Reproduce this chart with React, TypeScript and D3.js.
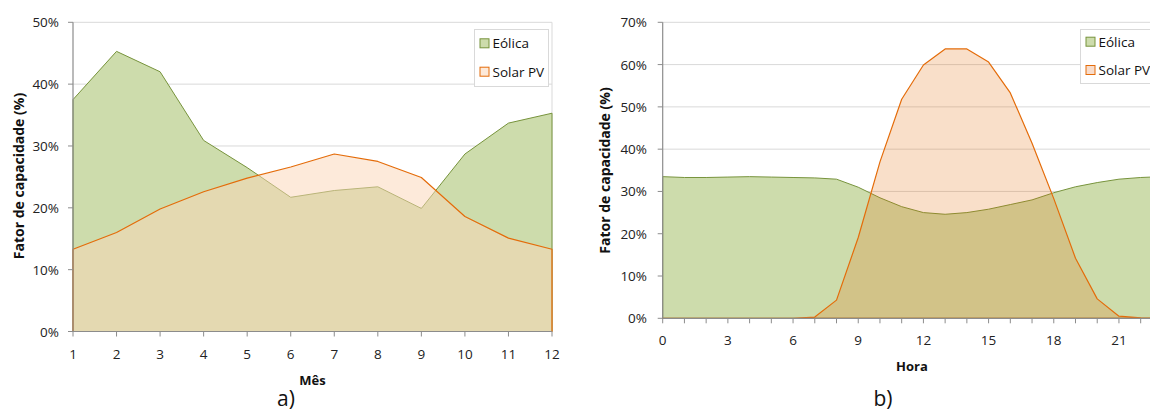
import React from "react";
import * as d3 from "d3";

const months = [1, 2, 3, 4, 5, 6, 7, 8, 9, 10, 11, 12];
const eolicaMes = [0.375, 0.453, 0.42, 0.309, 0.265, 0.217, 0.228, 0.234, 0.199, 0.287, 0.337, 0.353];
const solarMes = [0.133, 0.16, 0.198, 0.226, 0.248, 0.266, 0.287, 0.275, 0.249, 0.186, 0.151, 0.133];

const hours = d3.range(0, 24);
const eolicaHora = [0.335, 0.333, 0.333, 0.334, 0.335, 0.334, 0.333, 0.332, 0.329, 0.31, 0.285, 0.264, 0.25, 0.246, 0.25, 0.258, 0.269, 0.28, 0.297, 0.311, 0.321, 0.329, 0.333, 0.335];
const solarHora = [0, 0, 0, 0, 0, 0, 0, 0.003, 0.043, 0.191, 0.37, 0.518, 0.599, 0.637, 0.637, 0.606, 0.533, 0.414, 0.283, 0.142, 0.046, 0.005, 0.001, 0];

const leftYTicks = [0, 0.1, 0.2, 0.3, 0.4, 0.5];
const rightYTicks = [0, 0.1, 0.2, 0.3, 0.4, 0.5, 0.6, 0.7];
const rightXLabels = [0, 3, 6, 9, 12, 15, 18, 21];

const seriesNames = ["Eólica", "Solar PV"];
const FONT = "'Open Sans', sans-serif";
const GREEN_FILL = "#cddcac";
const GREEN_LINE = "#77933c";
const ORANGE = "#e46c0a";
const GRID = "#d9d9d9";
const AXIS = "#8c8c8c";

function Panel(props: {
  xs: number[];
  a: number[];
  b: number[];
  x: d3.ScaleLinear<number, number>;
  y: d3.ScaleLinear<number, number>;
  yTicks: number[];
  xTicks: number[];
  xLabels: number[];
  xLabelY: number;
  yLabelX: number;
  solarFill: string;
  solarOpacity: number;
  xTitle: string;
  xTitleX: number;
  xTitleY: number;
  yTitleX: number;
  yTitleY: number;
  legendX: number;
  legendW: number;
  legendY: number;
  legendH: number;
  legendRows: number[];
  legendSolarFill: string;
  clipId: string;
  clipW: number;
}) {
  const { x, y } = props;
  const [x0, x1] = x.range();
  const [yb, yt] = y.range();
  const area = d3
    .area<number>()
    .x((_, i) => x(props.xs[i]))
    .y0(y(0));
  const pathA = area.y1((d) => y(d))(props.a) + "Z";
  const pathB = area.y1((d) => y(d))(props.b) + "Z";
  return (
    <g>
      <defs>
        <clipPath id={props.clipId}>
          <rect x={x0 - 2} y={yt - 2} width={props.clipW} height={yb - yt + 4} />
        </clipPath>
      </defs>
      {props.yTicks.slice(1).map((t) => (
        <line key={t} x1={x0} x2={x1} y1={y(t)} y2={y(t)} stroke={GRID} strokeWidth={1} />
      ))}
      <line x1={x1} x2={x1} y1={yt} y2={yb} stroke={GRID} strokeWidth={1} />
      <g clipPath={`url(#${props.clipId})`}>
        <path d={pathA} fill={GREEN_FILL} stroke={GREEN_LINE} strokeWidth={1} strokeLinejoin="round" />
        <path
          d={pathB}
          fill={props.solarFill}
          fillOpacity={props.solarOpacity}
          stroke="none"
        />
        <path d={pathB} fill="none" stroke={ORANGE} strokeWidth={1.2} strokeLinejoin="round" />
      </g>
      <line x1={x0} x2={x0} y1={yt} y2={yb} stroke={AXIS} strokeWidth={1.2} />
      <line x1={x0} x2={x1} y1={yb} y2={yb} stroke={AXIS} strokeWidth={1.2} />
      {props.yTicks.map((t) => (
        <g key={t}>
          <line x1={x0 - 5} x2={x0} y1={y(t)} y2={y(t)} stroke={AXIS} strokeWidth={1} />
          <text
            x={props.yLabelX}
            y={y(t)}
            textAnchor="end"
            dominantBaseline="central"
            fontFamily={FONT}
            fontSize={13.5}
            fill="#222"
          >
            {Math.round(t * 100) + "%"}
          </text>
        </g>
      ))}
      {props.xTicks.map((t) => (
        <line key={t} x1={x(t)} x2={x(t)} y1={yb} y2={yb + 5} stroke={AXIS} strokeWidth={1} />
      ))}
      {props.xLabels.map((t) => (
        <text
          key={t}
          x={x(t)}
          y={props.xLabelY}
          textAnchor="middle"
          dominantBaseline="central"
          fontFamily={FONT}
          fontSize={13.5}
          fill="#222"
        >
          {t}
        </text>
      ))}
      <text
        x={props.xTitleX}
        y={props.xTitleY}
        textAnchor="middle"
        dominantBaseline="central"
        fontFamily={FONT}
        fontWeight="bold"
        fontSize={13}
        fill="#111"
      >
        {props.xTitle}
      </text>
      <text
        transform={`translate(${props.yTitleX},${props.yTitleY}) rotate(-90)`}
        textAnchor="middle"
        dominantBaseline="central"
        fontFamily={FONT}
        fontWeight="bold"
        fontSize={14}
        fill="#111"
      >
        Fator de capacidade (%)
      </text>
      <rect
        x={props.legendX}
        y={props.legendY}
        width={props.legendW}
        height={props.legendH}
        fill="#fff"
        stroke={GRID}
        strokeWidth={1}
      />
      {seriesNames.map((n, i) => (
        <g key={n}>
          <rect
            x={props.legendX + 5.5}
            y={props.legendRows[i] - 4.5}
            width={9}
            height={9}
            fill={i === 0 ? GREEN_FILL : props.legendSolarFill}
            stroke={i === 0 ? GREEN_LINE : ORANGE}
            strokeWidth={1}
          />
          <text
            x={props.legendX + 18}
            y={props.legendRows[i]}
            dominantBaseline="central"
            fontFamily={FONT}
            fontSize={13.5}
            fill="#111"
          >
            {n}
          </text>
        </g>
      ))}
    </g>
  );
}

export default function App() {
  const xL = d3.scaleLinear().domain([1, 12]).range([73, 552]);
  const yL = d3.scaleLinear().domain([0, 0.5]).range([331.5, 22.3]);
  const xR = d3.scaleLinear().domain([0, 23]).range([662.7, 1162.4]);
  const yR = d3.scaleLinear().domain([0, 0.7]).range([318.3, 22.3]);
  return (
    <div style={{ position: "absolute", left: 0, top: 0 }}>
      <svg width={1150} height={414} style={{ display: "block", background: "#fff" }}>
        <Panel
          xs={months}
          a={eolicaMes}
          b={solarMes}
          x={xL}
          y={yL}
          yTicks={leftYTicks}
          xTicks={months}
          xLabels={months}
          xLabelY={354}
          yLabelX={59}
          solarFill="#fcd5b5"
          solarOpacity={0.5}
          xTitle="Mês"
          xTitleX={312.5}
          xTitleY={380}
          yTitleX={18}
          yTitleY={176}
          legendX={474.5}
          legendW={74}
          legendY={29.5}
          legendH={57}
          legendRows={[43.3, 71.7]}
          legendSolarFill="#fde9d9"
          clipId="clipL"
          clipW={484}
        />
        <Panel
          xs={hours}
          a={eolicaHora}
          b={solarHora}
          x={xR}
          y={yR}
          yTicks={rightYTicks}
          xTicks={hours}
          xLabels={rightXLabels}
          xLabelY={340}
          yLabelX={647}
          solarFill={ORANGE}
          solarOpacity={0.22}
          xTitle="Hora"
          xTitleX={912}
          xTitleY={366}
          yTitleX={604}
          yTitleY={170.5}
          legendX={1080.5}
          legendW={90}
          legendY={29.5}
          legendH={54}
          legendRows={[41.7, 70]}
          legendSolarFill="#f8dccb"
          clipId="clipR"
          clipW={505}
        />
        <text x={286} y={406} textAnchor="middle" fontFamily={FONT} fontSize={21} fill="#111">
          a)
        </text>
        <text x={883} y={406} textAnchor="middle" fontFamily={FONT} fontSize={21} fill="#111">
          b)
        </text>
      </svg>
    </div>
  );
}
